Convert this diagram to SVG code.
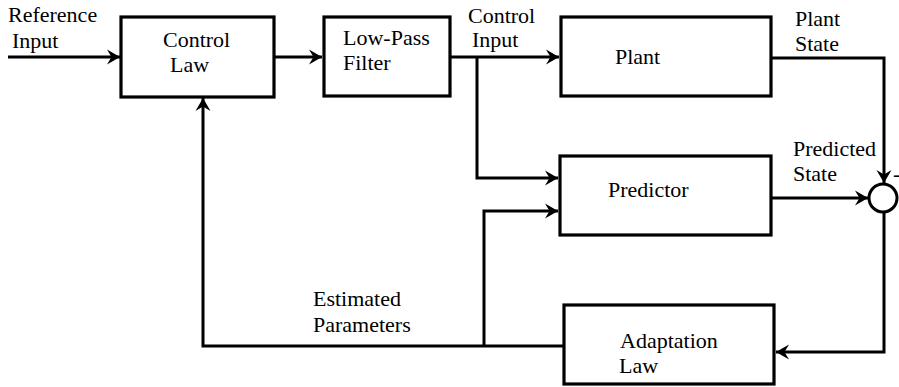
<svg xmlns="http://www.w3.org/2000/svg" width="899" height="387" viewBox="0 0 899 387">
<defs>
<marker id="arr" markerUnits="userSpaceOnUse" markerWidth="16" markerHeight="16" refX="0" refY="0" viewBox="-14 -8 16 16" orient="auto">
<path d="M0,0 L-13,-7.5 L-8.5,0 L-13,7.5 Z" fill="#000"/>
</marker>
</defs>
<style>
.box{fill:#fff;stroke:#000;stroke-width:3.2}
.ln{fill:none;stroke:#000;stroke-width:3}
.a{marker-end:url(#arr)}
.t{font-family:"Times New Roman","Liberation Serif","DejaVu Serif",serif;font-size:22px;fill:#000}
</style>
<rect width="899" height="387" fill="#fff"/>
<g id="connectors">
<path class="ln a" d="M8,57 H120"/>
<path class="ln a" d="M274,57 H322"/>
<path class="ln a" d="M450,57 H559"/>
<path class="ln a" d="M477,57 V178 H558"/>
<path class="ln a" d="M771,58 H884 V183"/>
<path class="ln a" d="M771,198 H868"/>
<path class="ln a" d="M884,212 V352 H776"/>
<path class="ln a" d="M563,346 H203 V98"/>
<path class="ln a" d="M484,346 V211 H558"/>
</g>
<g id="labels">
<text class="t" x="8" y="22">Reference</text>
<text class="t" x="12" y="48">Input</text>
<text class="t" x="468" y="23">Control</text>
<text class="t" x="472" y="47">Input</text>
<text class="t" x="795" y="26">Plant</text>
<text class="t" x="795" y="51">State</text>
<text class="t" x="793" y="156">Predicted</text>
<text class="t" x="793" y="181">State</text>
<text class="t" x="313" y="306">Estimated</text>
<text class="t" x="313" y="332">Parameters</text>
<text class="t" x="893" y="181">-</text>
</g>
<g id="control-law">
<rect class="box" x="121" y="17" width="153" height="80"/>
<text class="t" x="163" y="47">Control</text>
<text class="t" x="170" y="72">Law</text>
</g>
<g id="low-pass-filter">
<rect class="box" x="324" y="17" width="126" height="79"/>
<text class="t" x="343" y="45">Low-Pass</text>
<text class="t" x="343" y="70">Filter</text>
</g>
<g id="plant">
<rect class="box" x="561" y="17" width="210" height="79"/>
<text class="t" x="615" y="64">Plant</text>
</g>
<g id="predictor">
<rect class="box" x="560" y="156" width="211" height="79"/>
<text class="t" x="608" y="197">Predictor</text>
</g>
<g id="adaptation-law">
<rect class="box" x="564" y="305" width="210" height="79"/>
<text class="t" x="620" y="348">Adaptation</text>
<text class="t" x="619" y="373">Law</text>
</g>
<g id="sum">
<circle cx="883" cy="198" r="14" fill="#fff" stroke="#000" stroke-width="3"/>
</g>
</svg>
